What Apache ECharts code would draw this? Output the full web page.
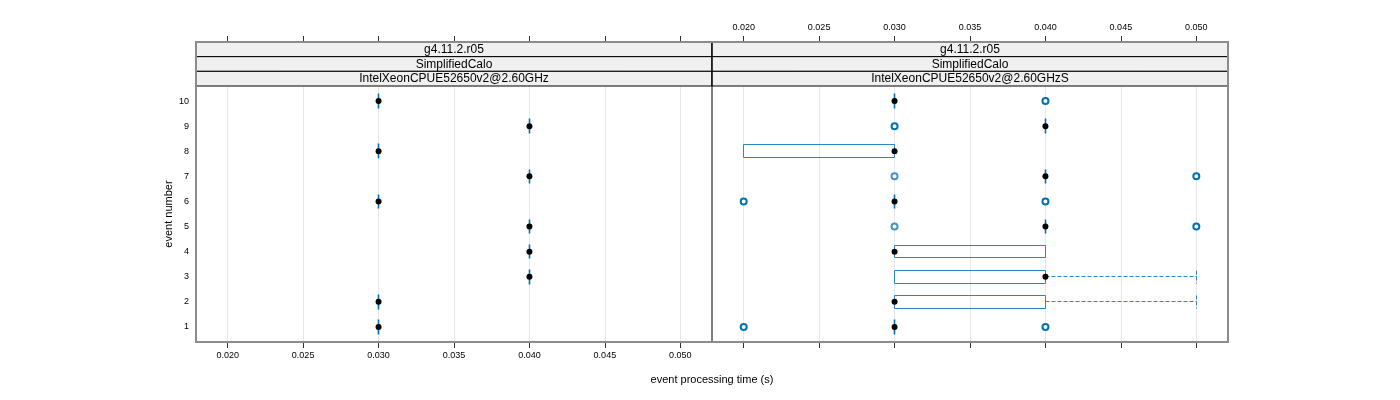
<!DOCTYPE html>
<html>
<head>
<meta charset="utf-8">
<script src="https://cdn.jsdelivr.net/npm/echarts@6/dist/echarts.min.js"></script>
<style>
  html, body { margin: 0; padding: 0; background: #fff; }
  #chart { width: 1400px; height: 400px; }
</style>
</head>
<body>
<div id="chart"></div>
<script>
// --- data ---
const events = [1, 2, 3, 4, 5, 6, 7, 8, 9, 10];
const xTicks = [0.02, 0.025, 0.03, 0.035, 0.04, 0.045, 0.05];
const yTicks = [1, 2, 3, 4, 5, 6, 7, 8, 9, 10];

const stripVersion = ["g4.11.2.r05", "g4.11.2.r05"];
const stripTest = ["SimplifiedCalo", "SimplifiedCalo"];
const stripCpu = ["IntelXeonCPUE52650v2@2.60GHz", "IntelXeonCPUE52650v2@2.60GHzS"];

// left panel: every event is a single value (zero width box)
const leftMed = [0.03, 0.03, 0.04, 0.04, 0.04, 0.03, 0.04, 0.03, 0.04, 0.03];
const leftQ1 = [0.03, 0.03, 0.04, 0.04, 0.04, 0.03, 0.04, 0.03, 0.04, 0.03];
const leftQ3 = [0.03, 0.03, 0.04, 0.04, 0.04, 0.03, 0.04, 0.03, 0.04, 0.03];
const leftLo = [0.03, 0.03, 0.04, 0.04, 0.04, 0.03, 0.04, 0.03, 0.04, 0.03];
const leftHi = [0.03, 0.03, 0.04, 0.04, 0.04, 0.03, 0.04, 0.03, 0.04, 0.03];

// right panel
const rightMed = [0.03, 0.03, 0.04, 0.03, 0.04, 0.03, 0.04, 0.03, 0.04, 0.03];
const rightQ1 = [0.03, 0.03, 0.03, 0.03, 0.04, 0.03, 0.04, 0.02, 0.04, 0.03];
const rightQ3 = [0.03, 0.04, 0.04, 0.04, 0.04, 0.03, 0.04, 0.03, 0.04, 0.03];
const rightLo = [0.03, 0.03, 0.03, 0.03, 0.04, 0.03, 0.04, 0.02, 0.04, 0.03];
const rightHi = [0.03, 0.05, 0.05, 0.04, 0.04, 0.03, 0.04, 0.03, 0.04, 0.03];

// right panel outliers (count = how many points overlap)
const outEvent = [1, 1, 5, 5, 6, 6, 7, 7, 9, 10];
const outTime = [0.02, 0.04, 0.03, 0.05, 0.02, 0.04, 0.03, 0.05, 0.03, 0.04];
const outCount = [3, 2, 1, 3, 2, 2, 1, 3, 3, 3];

const xMin = 0.0179, xMax = 0.0521;
const blue = "#0072B2";
const boxBlue = "#2a86c2";
const font = "'Liberation Sans', Arial, sans-serif";

const chart = echarts.init(document.getElementById("chart"), null, { renderer: "canvas" });

const snap = (v) => Math.round(v - 0.5) + 0.5;

const renderBox = (params, api) => {
  const y = api.value(0);
  const lo = api.value(1), q1 = api.value(2), q3 = api.value(3), hi = api.value(4);
  const h = api.size([0, 0.5])[1];
  const a = api.coord([q1, y]);
  const b = api.coord([q3, y]);
  const ax = snap(a[0]), bx = snap(b[0]);
  const top = snap(a[1] - h / 2), bot = snap(a[1] + h / 2);
  const children = [];
  if (ax === bx) {
    // zero width box: both sides collapse into one vertical stroke
    children.push({
      type: "line",
      shape: { x1: ax, y1: top - 1, x2: ax, y2: bot + 1 },
      style: { stroke: blue, lineWidth: 1.6 }
    });
  } else {
    children.push({
      type: "polygon",
      shape: { points: [[ax, top], [bx, top], [bx, bot], [ax, bot]] },
      style: { fill: "none", stroke: boxBlue, lineWidth: 1 }
    });
  }
  const whisker = (from, to) => {
    const p = api.coord([from, y]);
    const q = api.coord([to, y]);
    const cy = snap(p[1]), qx = snap(q[0]);
    children.push({
      type: "line",
      shape: { x1: snap(p[0]), y1: cy, x2: qx, y2: cy },
      style: { stroke: boxBlue, lineWidth: 1, lineDash: [4, 2] }
    });
    children.push({
      type: "line",
      shape: { x1: qx, y1: top, x2: qx, y2: bot },
      style: { stroke: boxBlue, lineWidth: 1, lineDash: [4, 2] }
    });
  };
  if (hi > q3) whisker(q3, hi);
  if (lo < q1) whisker(q1, lo);
  return { type: "group", children };
};

const xAxisCfg = (gridIndex, position, showLabels) => ({
  type: "value",
  gridIndex,
  position,
  offset: position === "top" ? 44 : 0,
  min: xMin,
  max: xMax,
  minInterval: 0.005,
  maxInterval: 0.005,
  axisLine: { show: false },
  axisTick: { show: true, length: 6, customValues: xTicks, lineStyle: { color: "#333" } },
  axisLabel: {
    show: showLabels,
    customValues: xTicks,
    formatter: (v) => v.toFixed(3),
    fontSize: 9,
    color: "#000",
    margin: position === "top" ? 10 : 9
  },
  splitLine: { show: position === "bottom", lineStyle: { color: "#e8e8e8", width: 1 } }
});

const yAxisCfg = (gridIndex, showLabels) => ({
  type: "value",
  gridIndex,
  min: 0.4,
  max: 10.6,
  minInterval: 1,
  maxInterval: 1,
  axisLine: { show: false },
  axisTick: { show: false },
  splitLine: { show: false },
  axisLabel: { show: showLabels, customValues: yTicks, fontSize: 9, color: "#000", margin: 7 },
  name: showLabels ? "event number" : "",
  nameLocation: "middle",
  nameGap: 22,
  nameTextStyle: { fontSize: 11, color: "#000" }
});

const boxData = (lo, q1, q3, hi) => events.map((e, i) => [e, lo[i], q1[i], q3[i], hi[i]]);
const medData = (med) => events.map((e, i) => [med[i], e]);

// strips and frame
const panelX = [196, 712];
const panelW = 516;
const stripH = 44 / 3;
const graphic = [];
panelX.forEach((x0, p) => {
  [stripVersion[p], stripTest[p], stripCpu[p]].forEach((label, k) => {
    const y = 42 + k * stripH;
    graphic.push({
      type: "rect",
      z: 10,
      shape: { x: x0, y, width: panelW, height: stripH },
      style: { fill: "#f0f0f0", stroke: "#000", lineWidth: 1 }
    });
    graphic.push({
      type: "text",
      z: 11,
      x: x0 + panelW / 2,
      y: y + stripH / 2 + 0.5,
      style: { text: label, fontSize: 12, fontFamily: font, fill: "#000", align: "center", verticalAlign: "middle" }
    });
  });
});
graphic.push({
  type: "line",
  z: 12,
  shape: { x1: 712, y1: 42, x2: 712, y2: 342 },
  style: { stroke: "#000", lineWidth: 1 }
});
graphic.push({
  type: "rect",
  z: 13,
  shape: { x: 196, y: 42, width: 1032, height: 300 },
  style: { fill: "none", stroke: "#8c8c8c", lineWidth: 2 }
});
graphic.push({
  type: "text",
  z: 13,
  x: 712,
  y: 380,
  style: { text: "event processing time (s)", fontSize: 11, fontFamily: font, fill: "#000", align: "center", verticalAlign: "middle" }
});

const option = {
  animation: false,
  textStyle: { fontFamily: font },
  grid: [
    { left: 196, top: 86, width: 516, height: 256 },
    { left: 712, top: 86, width: 516, height: 256 }
  ],
  xAxis: [
    xAxisCfg(0, "bottom", true),
    xAxisCfg(1, "bottom", false),
    xAxisCfg(0, "top", false),
    xAxisCfg(1, "top", true)
  ],
  yAxis: [yAxisCfg(0, true), yAxisCfg(1, false)],
  graphic,
  series: [
    {
      type: "custom",
      xAxisIndex: 0,
      yAxisIndex: 0,
      renderItem: renderBox,
      encode: { x: [1, 2, 3, 4], y: 0 },
      data: boxData(leftLo, leftQ1, leftQ3, leftHi)
    },
    {
      type: "custom",
      xAxisIndex: 1,
      yAxisIndex: 1,
      renderItem: renderBox,
      encode: { x: [1, 2, 3, 4], y: 0 },
      data: boxData(rightLo, rightQ1, rightQ3, rightHi)
    },
    {
      type: "scatter",
      xAxisIndex: 1,
      yAxisIndex: 1,
      symbol: "emptyCircle",
      symbolSize: 6,
      data: outEvent.map((e, i) => ({
        value: [outTime[i], e],
        itemStyle: {
          color: blue,
          borderColor: blue,
          borderWidth: outCount[i] >= 3 ? 2 : outCount[i] === 2 ? 1.6 : 1,
          opacity: outCount[i] === 1 ? 0.75 : 1
        }
      }))
    },
    {
      type: "scatter",
      xAxisIndex: 0,
      yAxisIndex: 0,
      symbol: "circle",
      symbolSize: 6,
      itemStyle: { color: "#000", opacity: 1 },
      data: medData(leftMed)
    },
    {
      type: "scatter",
      xAxisIndex: 1,
      yAxisIndex: 1,
      symbol: "circle",
      symbolSize: 6,
      itemStyle: { color: "#000", opacity: 1 },
      data: medData(rightMed)
    }
  ]
};

chart.setOption(option);
window.addEventListener("resize", () => {
  chart && chart.resize();
});
</script>
</body>
</html>
